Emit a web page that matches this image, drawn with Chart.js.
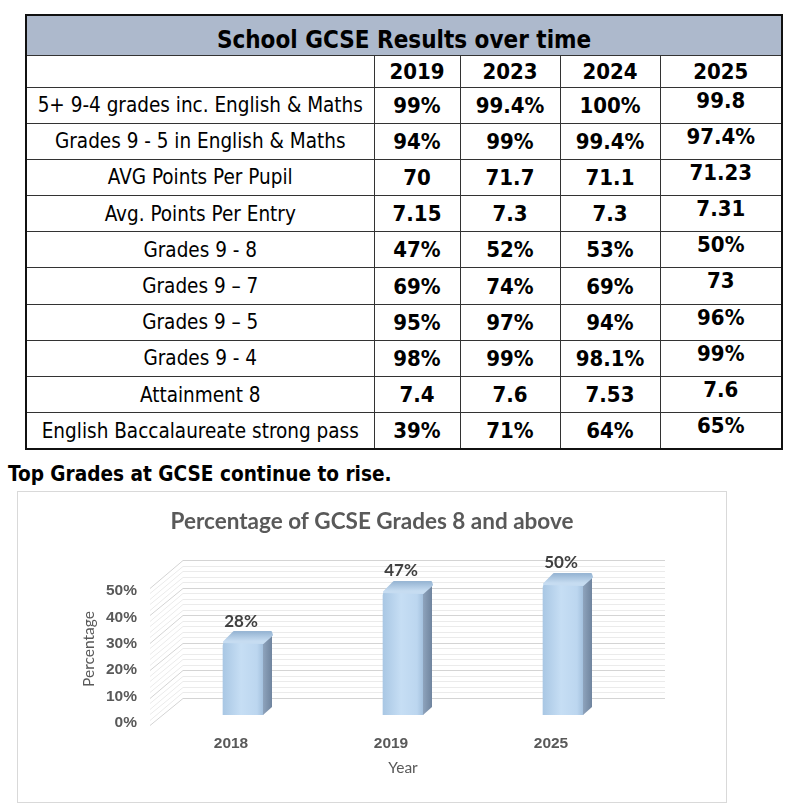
<!DOCTYPE html>
<html lang="en">
<head>
<meta charset="UTF-8">
<title>School GCSE Results over time</title>
<script src="https://cdn.jsdelivr.net/npm/chart.js@4.4.1/dist/chart.umd.min.js"></script>
<style>
  html, body { margin: 0; padding: 0; background: #fff; }
  body { width: 800px; height: 812px; position: relative; overflow: hidden;
         font-family: "DejaVu Sans Condensed", "DejaVu Sans", sans-serif; color: #000; }
  #results { position: absolute; left: 25px; top: 14px; width: 756px;
             border-collapse: collapse; table-layout: fixed; border: 2px solid #111; }
  #results td { border: 1px solid #333; text-align: center; padding: 0;
                font-size: 20.5px; height: 36.2px; box-sizing: border-box; }
  #results td.val { font-weight: bold; font-size: 22px; }
  #results td.late { vertical-align: top; padding-top: 0; line-height: 26px; }
  #results tr.title td { background: #adb9cc; font-weight: bold; font-size: 24px;
                         height: 40px; vertical-align: bottom; padding-bottom: 1px; }
  #results tr.head td { font-weight: bold; font-size: 22px; height: 32px; }
  #caption { position: absolute; left: 8px; top: 462px; margin: 0;
             font-size: 20.6px; font-weight: bold; white-space: nowrap; }
  #chartBox { position: absolute; left: 17px; top: 491px; width: 708px; height: 310px;
              border: 1px solid #d9d9d9; }
</style>
</head>
<body>

<table id="results">
  <colgroup>
    <col style="width:348px"><col style="width:86px"><col style="width:100px">
    <col style="width:100px"><col style="width:122px">
  </colgroup>
  <tbody id="resultsBody"></tbody>
</table>

<p id="caption">Top Grades at GCSE continue to rise.</p>

<div id="chartBox">
  <canvas id="myChart" width="708" height="310"></canvas>
</div>

<script>
    // table data
    var tableTitle = 'School GCSE Results over time';
    var tableYears = ['2019', '2023', '2024', '2025'];
    var measures = [
        '5+ 9-4 grades inc. English & Maths',
        'Grades 9 - 5 in English & Maths',
        'AVG Points Per Pupil',
        'Avg. Points Per Entry',
        'Grades 9 - 8',
        'Grades 9 \u2013 7',
        'Grades 9 \u2013 5',
        'Grades 9 - 4',
        'Attainment 8',
        'English Baccalaureate strong pass'
    ];
    var results2019 = ['99%', '94%', '70', '7.15', '47%', '69%', '95%', '98%', '7.4', '39%'];
    var results2023 = ['99.4%', '99%', '71.7', '7.3', '52%', '74%', '97%', '99%', '7.6', '71%'];
    var results2024 = ['100%', '99.4%', '71.1', '7.3', '53%', '69%', '94%', '98.1%', '7.53', '64%'];
    var results2025 = ['99.8', '97.4%', '71.23', '7.31', '50%', '73', '96%', '99%', '7.6', '65%'];

    // chart data
    var chartYears = ['2018', '2019', '2025'];
    var topGrades = [28, 47, 50];
    var yTicks = [0, 10, 20, 30, 40, 50];

    function buildTable() {
        var body = document.getElementById('resultsBody');
        var html = '<tr class="title"><td colspan="5">' + tableTitle + '</td></tr>';
        html += '<tr class="head"><td></td>';
        tableYears.forEach(function (y) { html += '<td>' + y + '</td>'; });
        html += '</tr>';
        var cols = [results2019, results2023, results2024, results2025];
        measures.forEach(function (m, i) {
            html += '<tr><td>' + m.replace('&', '&amp;') + '</td>';
            cols.forEach(function (c, j) {
                html += '<td class="val' + (j === 3 ? ' late' : '') + '">' + c[i] + '</td>';
            });
            html += '</tr>';
        });
        body.innerHTML = html;
    }
    buildTable();

    var grey = '#595959';
    var dx = 9, dy = -9;

    // back wall, left wall and gridlines of the 3D look
    var wallPlugin = {
        id: 'walls',
        beforeDatasetsDraw: function (chart) {
            var ctx = chart.ctx, area = chart.chartArea, y = chart.scales.y;
            var max = yTicks[yTicks.length - 1];
            ctx.save();
            ctx.lineWidth = 1;
            for (var v = 0; v <= max; v += 2) {
                var py = y.getPixelForValue(v);
                var frontY = py + 10 - v / max * 5;
                var backY = py - 17 - v / max * 6;
                ctx.strokeStyle = v % 10 === 0 ? '#d4d4d4' : '#ebebeb';
                ctx.beginPath();
                ctx.moveTo(area.left - 13, Math.round(frontY) + 0.5);
                ctx.lineTo(area.left + 20, Math.round(backY) + 0.5);
                ctx.lineTo(area.right + 22, Math.round(backY) + 0.5);
                ctx.stroke();
            }
            ctx.restore();
        },
        afterDatasetsDraw: function (chart) {
            var ctx = chart.ctx;
            var meta = chart.getDatasetMeta(0);
            ctx.save();
            meta.data.forEach(function (bar, i) {
                var p = bar.getProps(['x', 'y', 'base', 'width'], true);
                var L = p.x - p.width / 2, R = p.x + p.width / 2;
                // side face
                var gs = ctx.createLinearGradient(R, 0, R + dx, 0);
                gs.addColorStop(0, '#8ea3bc');
                gs.addColorStop(1, '#6f849e');
                ctx.fillStyle = gs;
                ctx.beginPath();
                ctx.moveTo(R, p.y + 2);
                ctx.lineTo(R + dx, p.y + dy + 3);
                ctx.lineTo(R + dx, p.base + dy + 1);
                ctx.lineTo(R, p.base);
                ctx.closePath();
                ctx.fill();
                // top face
                var gt = ctx.createLinearGradient(0, p.y + dy, 0, p.y);
                gt.addColorStop(0, '#98b6d4');
                gt.addColorStop(1, '#c6dcf1');
                ctx.fillStyle = gt;
                ctx.strokeStyle = gt;
                ctx.lineJoin = 'round';
                ctx.lineWidth = 2;
                ctx.beginPath();
                ctx.moveTo(L + 1, p.y + 1);
                ctx.lineTo(L + dx + 2, p.y + dy);
                ctx.lineTo(R + dx - 1, p.y + dy);
                ctx.lineTo(R + dx, p.y + dy + 3);
                ctx.lineTo(R, p.y + 2);
                ctx.closePath();
                ctx.fill();
                ctx.stroke();
                // data label
                ctx.fillStyle = '#404040';
                ctx.font = 'bold 17px Lato, "Liberation Sans", sans-serif';
                ctx.textAlign = 'center';
                ctx.textBaseline = 'middle';
                ctx.fillText(topGrades[i] + '%', p.x - 2, p.y - 20);
            });
            ctx.restore();
        }
    };

    var ctx = document.querySelector('#myChart').getContext('2d');
    new Chart(ctx, {
        type: 'bar',
        data: {
            labels: chartYears,
            datasets: [{
                label: 'Percentage',
                data: topGrades,
                barThickness: 40,
                borderRadius: { topLeft: 5, topRight: 2, bottomLeft: 0, bottomRight: 0 },
                backgroundColor: function (c) {
                    var chart = c.chart, xs = chart.scales.x;
                    if (!xs || !chart.chartArea) return '#bdd7ee';
                    var cx = xs.getPixelForValue(c.dataIndex);
                    var g = chart.ctx.createLinearGradient(cx - 20, 0, cx + 20, 0);
                    g.addColorStop(0, '#a9c7e4');
                    g.addColorStop(0.45, '#c6def4');
                    g.addColorStop(0.85, '#bcd6ef');
                    g.addColorStop(1, '#a4c1de');
                    return g;
                }
            }]
        },
        options: {
            responsive: false,
            animation: false,
            layout: { padding: 0 },
            plugins: {
                legend: { display: false },
                tooltip: { enabled: false },
                title: {
                    display: true,
                    text: 'Percentage of GCSE Grades 8 and above',
                    color: grey,
                    font: { family: 'Lato, "Liberation Sans", sans-serif', size: 22.5, weight: 'bold' },
                    padding: { top: 16, bottom: 48 }
                }
            },
            scales: {
                x: {
                    grid: { display: false, drawTicks: false },
                    border: { display: false },
                    ticks: {
                        color: grey,
                        padding: 19,
                        labelOffset: -12,
                        font: { family: '"Liberation Sans", Arial, sans-serif', size: 15.5, weight: 'bold' }
                    },
                    title: {
                        display: true,
                        text: 'Year',
                        color: grey,
                        font: { family: 'Lato, "Liberation Sans", sans-serif', size: 15.5 },
                        padding: { top: 0, bottom: 25 }
                    },
                    afterFit: function (s) { s.height = 87; }
                },
                y: {
                    min: 0,
                    max: 50,
                    grid: { display: false, drawTicks: false },
                    border: { display: false },
                    afterBuildTicks: function (s) {
                        s.ticks = yTicks.map(function (v) { return { value: v }; });
                    },
                    ticks: {
                        color: grey,
                        padding: 26,
                        labelOffset: 8,
                        font: { family: '"Liberation Sans", Arial, sans-serif', size: 15.5, weight: 'bold' },
                        callback: function (v) { return v + '%'; }
                    },
                    title: {
                        display: true,
                        text: 'Percentage',
                        color: grey,
                        font: { family: 'Lato, "Liberation Sans", sans-serif', size: 15.5 },
                        padding: { top: 62, bottom: 0 }
                    },
                    afterFit: function (s) { s.width = 145; }
                },
                // empty right-hand axis, keeps the plot left of the centre like the original
                spacer: {
                    position: 'right',
                    grid: { display: false, drawTicks: false },
                    border: { display: false },
                    ticks: { display: false },
                    afterFit: function (s) { s.width = 83; }
                }
            }
        },
        plugins: [wallPlugin]
    });
</script>
</body>
</html>
